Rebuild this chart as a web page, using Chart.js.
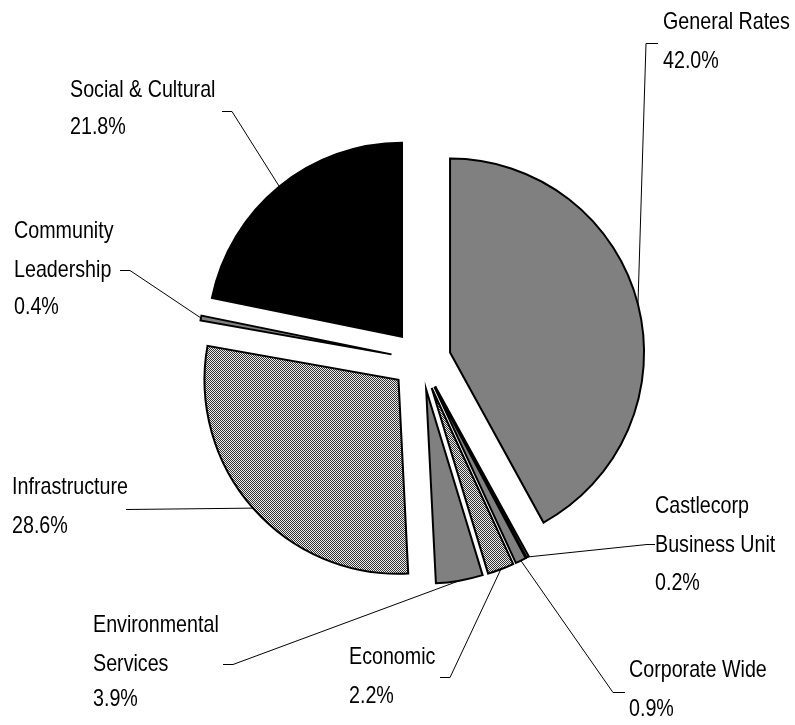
<!DOCTYPE html>
<html>
<head>
<meta charset="utf-8">
<script src="https://cdn.jsdelivr.net/npm/chart.js@4"></script>
<style>
  html, body { margin: 0; padding: 0; background: #ffffff; }
  #wrap { width: 795px; height: 725px; position: relative; }
</style>
</head>
<body>
<div id="wrap"><canvas id="chart"></canvas></div>
<script>
// Revenue by category, in percent, clockwise from 12 o'clock
const categories = [
  'General Rates',
  'Castlecorp Business Unit',
  'Corporate Wide',
  'Economic',
  'Environmental Services',
  'Infrastructure',
  'Community Leadership',
  'Social & Cultural'
];
const shares = [42.0, 0.2, 0.9, 2.2, 3.9, 28.6, 0.4, 21.8];

// Label text as drawn beside each slice (the value line is appended)
const labelLines = [
  ['General Rates'],
  ['Castlecorp', 'Business Unit'],
  ['Corporate Wide'],
  ['Economic'],
  ['Environmental', 'Services'],
  ['Infrastructure'],
  ['Community', 'Leadership'],
  ['Social & Cultural']
];

// Label placement: text left x, line centre ys, leader elbow [xFar, y, xNear]
const labelLayout = [
  { x: 663, ys: [20, 59],            elbow: [658, 43, 646] },
  { x: 655, ys: [504, 543, 581],     elbow: [655, 544, 647] },
  { x: 629, ys: [668, 707],          elbow: [625, 692, 613] },
  { x: 349, ys: [655, 694],          elbow: [440, 677, 450] },
  { x: 93,  ys: [623, 662, 697],     elbow: [223, 664, 233] },
  { x: 12,  ys: [485, 524],          elbow: [126, 509, 126] },
  { x: 14,  ys: [229, 268, 305],     elbow: [120, 270, 130] },
  { x: 70,  ys: [88, 125],           elbow: [222, 111, 232] }
];

const EXPLODE = 30;      // distance each slice is pulled out from the centre
const PIE_RADIUS = 194;
const FONT = '24px "Liberation Sans", Arial, sans-serif';
const NARROW = 0.82;     // horizontal squeeze for a condensed look

// Fine checkerboard fill used for two of the slices
function checkerPattern() {
  const c = document.createElement('canvas');
  c.width = 2; c.height = 2;
  const g = c.getContext('2d');
  g.fillStyle = '#ececec'; g.fillRect(0, 0, 2, 2);
  g.fillStyle = '#333333';
  g.fillRect(0, 0, 1, 1);
  g.fillRect(1, 1, 1, 1);
  return g.createPattern(c, 'repeat');
}
const checker = checkerPattern();
const grey = '#808080';
const sliceColors = [grey, grey, grey, checker, grey, checker, grey, '#000000'];

// Pull every arc out along its own bisector by a fixed distance
const explodePlugin = {
  id: 'explode',
  afterUpdate(chart) {
    const meta = chart.getDatasetMeta(0);
    meta.data.forEach(arc => {
      const mid = (arc.startAngle + arc.endAngle) / 2;
      arc.x += Math.cos(mid) * EXPLODE;
      arc.y += Math.sin(mid) * EXPLODE;
    });
  }
};

// Category names, values and leader lines to the middle of each outer edge
const labelPlugin = {
  id: 'outsideLabels',
  afterDatasetsDraw(chart) {
    const ctx = chart.ctx;
    const meta = chart.getDatasetMeta(0);
    meta.data.forEach((arc, i) => {
      const lay = labelLayout[i];
      const lines = labelLines[i].concat([shares[i].toFixed(1) + '%']);
      ctx.save();
      ctx.font = FONT;
      ctx.fillStyle = '#000000';
      ctx.textAlign = 'left';
      ctx.textBaseline = 'alphabetic';
      lines.forEach((t, k) => {
        ctx.save();
        ctx.translate(lay.x, lay.ys[k] + 8.5);
        ctx.scale(NARROW, 1);
        ctx.fillText(t, 0, 0);
        ctx.restore();
      });

      const mid = (arc.startAngle + arc.endAngle) / 2;
      const ex = arc.x + Math.cos(mid) * arc.outerRadius;
      const ey = arc.y + Math.sin(mid) * arc.outerRadius;
      const [xf, y, xn] = lay.elbow;
      ctx.beginPath();
      ctx.strokeStyle = '#000000';
      ctx.lineWidth = 1;
      ctx.moveTo(xf, y + 0.5);
      ctx.lineTo(xn, y + 0.5);
      ctx.lineTo(ex, ey);
      ctx.stroke();
      ctx.restore();
    });
  }
};

new Chart(document.getElementById('chart'), {
  type: 'pie',
  data: {
    labels: categories,
    datasets: [{
      data: shares,
      backgroundColor: sliceColors,
      borderColor: '#000000',
      borderWidth: 2,
      borderJoinStyle: 'miter'
    }]
  },
  options: {
    responsive: true,
    maintainAspectRatio: false,
    animation: false,
    radius: PIE_RADIUS,
    layout: { padding: { left: 47, right: 0, top: 0, bottom: 5 } },
    plugins: {
      legend: { display: false },
      tooltip: { enabled: false }
    }
  },
  plugins: [explodePlugin, labelPlugin]
});
</script>
</body>
</html>
